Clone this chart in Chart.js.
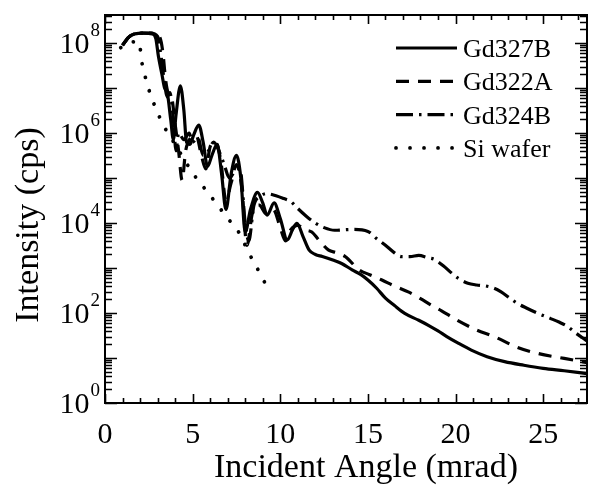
<!DOCTYPE html>
<html><head><meta charset="utf-8">
<script src="https://cdn.jsdelivr.net/npm/chart.js@4/dist/chart.umd.min.js"></script>
<style>html,body{margin:0;padding:0;background:#fff}canvas{display:block}</style>
</head><body>
<canvas id="c" width="589" height="485"></canvas>
<script>
// ---- data ----
const seriesNames = ['Gd327B', 'Gd322A', 'Gd324B', 'Si wafer'];

const gd327bX = [1.0,1.3,1.7,2.2,2.7,2.9,3.05,3.25,3.4,3.55,3.75,3.9,4.05,4.3,4.5,4.65,4.85,5.05,5.35,5.6,5.85,6.1,6.4,6.65,6.9,7.2,7.5,7.75,8.0,8.3,8.7,9.0,9.25,9.65,10.0,10.4,10.7,10.95,11.3,11.65,12.0,12.4,13.0,13.5,14.1,14.6,15.0,15.5,16.0,16.5,17.1,17.9,18.5,19.0,19.5,20.1,20.9,21.8,22.8,23.9,25.0,26.2,27.5];
const gd327bY = [8.9e7,1.3e8,1.6e8,1.66e8,1.6e8,1.26e8,5.0e7,2.0e7,1.0e7,7.9e6,2.0e6,7.1e5,2.5e6,1.12e7,3.2e6,6.3e5,5.6e5,8.9e5,1.5e6,6.3e5,1.8e5,3.2e5,5.6e5,1.26e5,2.0e4,1.26e5,3.2e5,1.0e5,6.3e3,2.0e4,4.8e4,2.8e4,1.5e4,2.8e4,1.26e4,4.2e3,7.1e3,9.8e3,5.0e3,2.5e3,2.0e3,1.8e3,1.5e3,1.26e3,910,710,540,355,214,148,98,69,52,40,30,22,15,10.7,8.3,6.9,5.9,5.2,4.5];

const gd322aX = [1.0,1.4,2.0,2.6,3.1,3.3,3.45,3.6,3.8,4.0,4.2,4.4,4.6,4.9,5.2,5.5,5.75,6.0,6.3,6.6,6.9,7.2,7.5,7.8,8.1,8.4,8.8,9.2,9.6,10.0,10.3,10.6,11.0,11.4,11.8,12.2,12.76,13.2,13.7,14.5,15.1,15.8,16.5,17.3,18.0,18.6,19.2,20.1,21.2,22.2,23.5,24.7,26.2,27.5];
const gd322aY = [8.9e7,1.4e8,1.66e8,1.66e8,1.4e8,6.3e7,1.6e7,7.9e6,6.3e6,1.6e6,4.0e5,8.9e4,4.0e5,7.9e5,8.9e5,3.2e5,1.6e5,5.0e5,6.3e5,2.5e5,3.2e4,7.9e4,2.0e5,6.3e4,3.2e3,1.6e4,2.5e4,1.6e4,2.0e4,7.9e3,4.0e3,7.1e3,8.9e3,7.1e3,6.3e3,4.2e3,2.5e3,2.2e3,1.8e3,910,710,540,400,295,209,151,112,69,42,30,17.4,12.6,9.8,7.9];

const gd324bX = [1.0,1.4,2.0,2.6,3.0,3.2,3.4,3.55,3.7,3.9,4.05,4.2,4.5,4.8,5.0,5.3,5.6,5.9,6.2,6.5,6.8,7.1,7.4,7.7,8.0,8.2,8.5,8.9,9.2,9.8,10.2,10.6,11.0,11.5,12.0,12.5,13.1,14.1,15.0,15.5,16.0,16.5,16.9,17.4,17.9,18.4,18.8,19.3,19.8,20.2,20.7,21.2,21.7,22.2,22.6,23.1,23.5,24.1,24.7,25.4,25.9,26.4,26.9,27.5];
const gd324bY = [8.9e7,1.4e8,1.66e8,1.66e8,1.4e8,5.0e7,1.26e7,6.3e6,7.9e6,2.0e6,4.0e5,1.0e6,7.1e5,1.0e6,6.3e5,7.9e5,3.2e5,4.0e5,6.3e5,4.0e5,2.0e5,1.0e5,1.4e5,1.6e5,1.0e4,4.0e3,2.5e4,4.0e4,4.5e4,4.0e4,3.5e4,3.0e4,2.1e4,1.4e4,1.0e4,7.9e3,6.9e3,7.2e3,6.5e3,4.5e3,3.2e3,2.2e3,1.8e3,1.8e3,1.9e3,1.7e3,1.55e3,1.12e3,760,575,460,420,400,355,295,214,166,126,98,76,63,50,35,24];

const siWaferX = [0.9,1.5,1.95,2.08,2.27,2.55,2.93,3.35,4.0,5.0,5.62,6.24,6.98,7.66,8.17,8.64,8.98,9.39];
const siWaferY = [7.9e7,1.05e8,1.07e8,4.2e7,1.95e7,8.1e6,3.3e6,1.45e6,5.6e5,1.3e5,6.3e4,3.1e4,1.3e4,6.0e3,2.3e3,1.07e3,590,316];

const xTickValues = [0, 5, 10, 15, 20, 25];
const xTickLabels = ['0', '5', '10', '15', '20', '25'];
const yTickValues = [1, 1e2, 1e4, 1e6, 1e8];
const yTickExps = ['0', '2', '4', '6', '8'];
const xTitle = 'Incident Angle (mrad)';
const yTitle = 'Intensity (cps)';

// ---- chart ----
const SERIF = '"Liberation Serif", "Times New Roman", serif';
function pts(xs, ys) { return xs.map((x, i) => ({x: x, y: ys[i]})); }

const styles = [
  {borderDash: [], borderWidth: 3.2, borderCapStyle: 'butt'},
  {borderDash: [13, 9], borderWidth: 3.2, borderCapStyle: 'butt'},
  {borderDash: [17, 6, 2.5, 6], borderWidth: 3.2, borderCapStyle: 'butt'},
  {borderDash: [0.01, 14], borderWidth: 3.8, borderCapStyle: 'round'}
];
const seriesData = [pts(gd327bX, gd327bY), pts(gd322aX, gd322aY), pts(gd324bX, gd324bY), pts(siWaferX, siWaferY)];

const datasets = seriesNames.map((n, i) => Object.assign({
  label: n, data: seriesData[i], borderColor: '#000', backgroundColor: '#000',
  pointRadius: 0, fill: false, cubicInterpolationMode: 'monotone', borderJoinStyle: 'round'
}, styles[i]));

const decor = {
  id: 'decor',
  afterDraw(chart) {
    const ctx = chart.ctx, a = chart.chartArea;
    const xs = chart.scales.x, ys = chart.scales.y;
    ctx.save();
    ctx.strokeStyle = '#000'; ctx.fillStyle = '#000';
    // frame
    ctx.lineWidth = 2;
    ctx.strokeRect(a.left, a.top, a.right - a.left, a.bottom - a.top);
    // x ticks
    ctx.lineWidth = 1.6;
    ctx.beginPath();
    for (let v = 0; v <= xs.max; v += 1) {
      const p = Math.round(xs.getPixelForValue(v)) + 0.5;
      const len = (v % 5 === 0) ? 9 : 5;
      ctx.moveTo(p, a.bottom); ctx.lineTo(p, a.bottom - len);
      ctx.moveTo(p, a.top); ctx.lineTo(p, a.top + len);
    }
    // y ticks
    for (let d = 0; d <= 8; d++) {
      for (let k = 1; k <= 9; k++) {
        const v = k * Math.pow(10, d);
        if (v > ys.max) break;
        const p = Math.round(ys.getPixelForValue(v)) + 0.5;
        const len = (k === 1) ? 12 : 7;
        ctx.moveTo(a.left, p); ctx.lineTo(a.left + len, p);
        ctx.moveTo(a.right, p); ctx.lineTo(a.right - len, p);
      }
    }
    ctx.stroke();
    // x tick labels
    ctx.font = '30px ' + SERIF;
    ctx.textAlign = 'center'; ctx.textBaseline = 'alphabetic';
    xTickValues.forEach((v, i) => ctx.fillText(xTickLabels[i], xs.getPixelForValue(v), 443));
    // y tick labels 10^n
    yTickValues.forEach((v, i) => {
      const p = ys.getPixelForValue(v);
      ctx.font = '19px ' + SERIF;
      const sw = ctx.measureText(yTickExps[i]).width;
      ctx.textAlign = 'left';
      ctx.fillText(yTickExps[i], a.left - 5 - sw, p - 7);
      ctx.font = '30px ' + SERIF;
      ctx.textAlign = 'right';
      ctx.fillText('10', a.left - 6 - sw, p + 10);
    });
    // axis titles
    ctx.font = '34px ' + SERIF;
    ctx.textAlign = 'center';
    ctx.fillText(xTitle, 366, 477);
    ctx.save();
    ctx.translate(38, 225); ctx.rotate(-Math.PI / 2);
    ctx.fillText(yTitle, 0, 0);
    ctx.restore();
    // legend
    ctx.font = '26px ' + SERIF;
    ctx.textAlign = 'left';
    chart.data.datasets.forEach((ds, i) => {
      const y = 48 + i * 33.3;
      ctx.save();
      ctx.lineWidth = ds.borderWidth; ctx.setLineDash(ds.borderDash); ctx.lineCap = ds.borderCapStyle;
      ctx.beginPath(); ctx.moveTo(396, y); ctx.lineTo(457, y); ctx.stroke();
      ctx.restore();
      ctx.fillText(ds.label, 463, y + 9);
    });
    ctx.restore();
  }
};

new Chart(document.getElementById('c'), {
  type: 'line',
  data: {datasets: datasets},
  options: {
    responsive: false, animation: false, devicePixelRatio: 1,
    layout: {padding: {left: 105, right: 2, top: 15, bottom: 82}},
    plugins: {legend: {display: false}, tooltip: {enabled: false}},
    scales: {
      x: {type: 'linear', min: 0, max: 27.5, display: false},
      y: {type: 'logarithmic', min: 1, max: 4.2e8, display: false}
    }
  },
  plugins: [decor]
});
</script>
</body></html>
